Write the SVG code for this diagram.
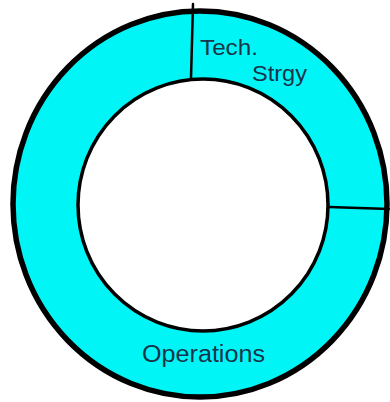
<svg xmlns="http://www.w3.org/2000/svg" width="390" height="402" viewBox="0 0 390 402">
  <style>
    .lbl { font-family: "Liberation Sans", Arial, sans-serif; font-size: 22px; fill: #17344a; }
    .div { stroke: #000; stroke-width: 2.5; fill: none; stroke-linecap: round; }
  </style>
  <rect width="390" height="402" fill="#ffffff"/>
  <g id="ring">
    <ellipse cx="200" cy="204" rx="187" ry="193" fill="#00f6f6" stroke="#000" stroke-width="5.5"/>
    <ellipse cx="203" cy="205" rx="125" ry="126" fill="#ffffff" stroke="#000" stroke-width="3.5"/>
  </g>
  <g id="connectors">
    <path class="div" d="M193 4 L191 78"/>
    <path class="div" d="M329 207 L389 209"/>
  </g>
  <g id="tech-strategy">
    <text class="lbl" x="200" y="55" textLength="58" lengthAdjust="spacingAndGlyphs">Tech.</text>
    <text class="lbl" x="252" y="81" textLength="55" lengthAdjust="spacingAndGlyphs">Strgy</text>
  </g>
  <g id="operations">
    <text class="lbl" x="142" y="362" font-size="23" textLength="123" lengthAdjust="spacingAndGlyphs" style="font-size:23px">Operations</text>
  </g>
</svg>
